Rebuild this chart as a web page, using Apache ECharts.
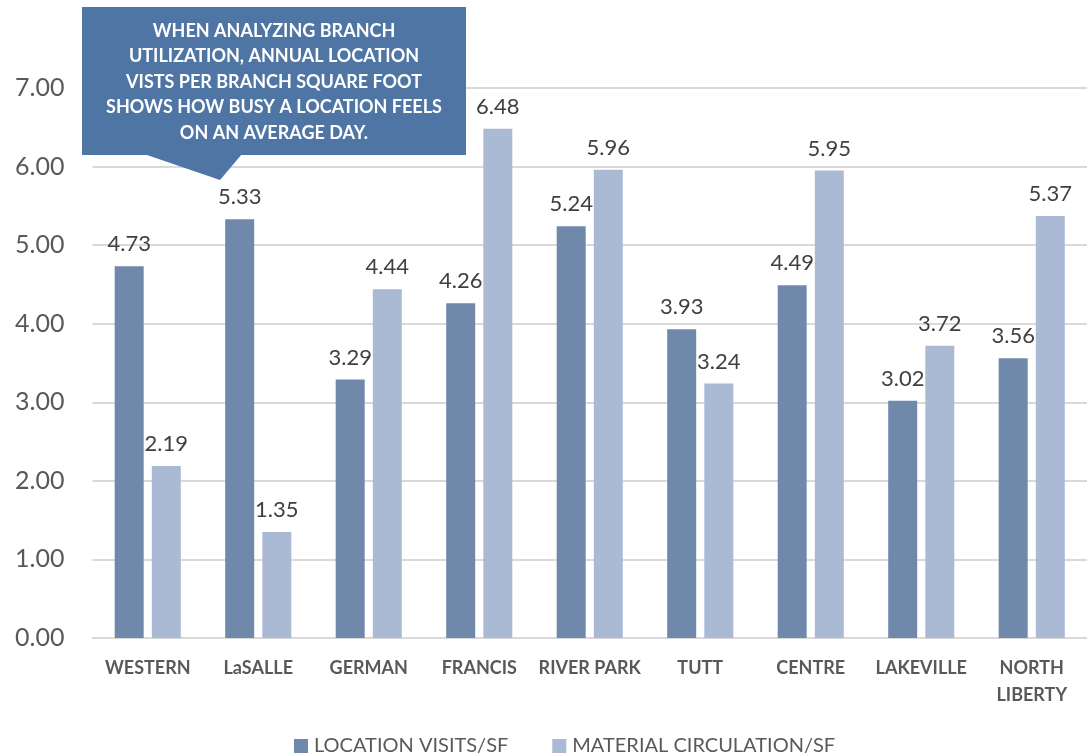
<!DOCTYPE html>
<html>
<head>
<meta charset="utf-8">
<style>
  html, body { margin: 0; padding: 0; background: #ffffff; }
  #chart { width: 1087px; height: 755px; }
</style>
<script src="https://cdn.jsdelivr.net/npm/echarts@6/dist/echarts.min.js"></script>
</head>
<body>
<div id="chart"></div>
<script>
// Branch names along the category axis
const branches = ['WESTERN', 'LaSALLE', 'GERMAN', 'FRANCIS', 'RIVER PARK', 'TUTT', 'CENTRE', 'LAKEVILLE', 'NORTH\nLIBERTY'];

// Annual location visits per branch square foot
const locationVisits = [4.73, 5.33, 3.29, 4.26, 5.24, 3.93, 4.49, 3.02, 3.56];

// Material circulation per branch square foot
const materialCirculation = [2.19, 1.35, 4.44, 6.48, 5.96, 3.24, 5.95, 3.72, 5.37];

const seriesNames = ['LOCATION VISITS/SF', 'MATERIAL CIRCULATION/SF'];

const calloutLines = [
  'WHEN ANALYZING BRANCH',
  'UTILIZATION, ANNUAL LOCATION',
  'VISTS PER BRANCH SQUARE FOOT',
  'SHOWS HOW BUSY A LOCATION FEELS',
  'ON AN AVERAGE DAY.'
];

const FONT = 'Lato, "Open Sans", sans-serif';
const chart = echarts.init(document.getElementById('chart'), null, { renderer: 'canvas' });

const valueLabel = {
  show: true,
  position: 'top',
  distance: 11,
  fontFamily: FONT,
  fontSize: 22,
  color: '#404040',
  formatter: p => p.value.toFixed(2)
};

chart.setOption({
  animation: false,
  backgroundColor: '#ffffff',
  grid: { left: 92.5, top: 88, width: 1000, bottom: 117, containLabel: false },
  legend: {
    left: 289,
    top: 731,
    itemWidth: 14,
    itemHeight: 14,
    itemGap: 44,
    icon: 'rect',
    textStyle: { fontFamily: FONT, fontSize: 20, color: '#595959', padding: [0, 0, 0, 1] },
    data: seriesNames
  },
  xAxis: {
    type: 'category',
    data: branches,
    axisLine: { lineStyle: { color: '#d9d9d9', width: 2 } },
    axisTick: { show: false },
    axisLabel: {
      margin: 17,
      fontFamily: FONT,
      fontWeight: 'bold',
      fontSize: 18,
      color: '#595959',
      lineHeight: 27,
      interval: 0
    }
  },
  yAxis: {
    type: 'value',
    min: 0,
    max: 7,
    interval: 1,
    axisLine: { show: false },
    axisTick: { show: false },
    splitLine: { lineStyle: { color: '#d9d9d9', width: 2 } },
    axisLabel: {
      margin: 28,
      fontFamily: FONT,
      fontSize: 25,
      color: '#595959',
      formatter: v => v.toFixed(2)
    }
  },
  series: [
    {
      name: seriesNames[0],
      type: 'bar',
      data: locationVisits,
      barWidth: 29,
      barGap: '28%',
      itemStyle: { color: '#7089ab' },
      label: valueLabel
    },
    {
      name: seriesNames[1],
      type: 'bar',
      data: materialCirculation,
      barWidth: 29,
      itemStyle: { color: '#aabad4' },
      label: valueLabel
    }
  ],
  graphic: [
    {
      type: 'polygon',
      z: 100,
      shape: { points: [[144, 154], [242, 154], [220, 180]] },
      style: { fill: '#4f75a4' }
    },
    {
      type: 'rect',
      z: 100,
      shape: { x: 82, y: 7, width: 384, height: 148 },
      style: { fill: '#4f75a4' }
    },
    {
      type: 'text',
      z: 101,
      x: 274,
      y: 82,
      style: {
        text: calloutLines.join('\n'),
        fill: '#ffffff',
        fontFamily: FONT,
        fontWeight: 'bold',
        fontSize: 18,
        lineHeight: 25.5,
        align: 'center',
        verticalAlign: 'middle'
      }
    }
  ]
});
</script>
</body>
</html>
